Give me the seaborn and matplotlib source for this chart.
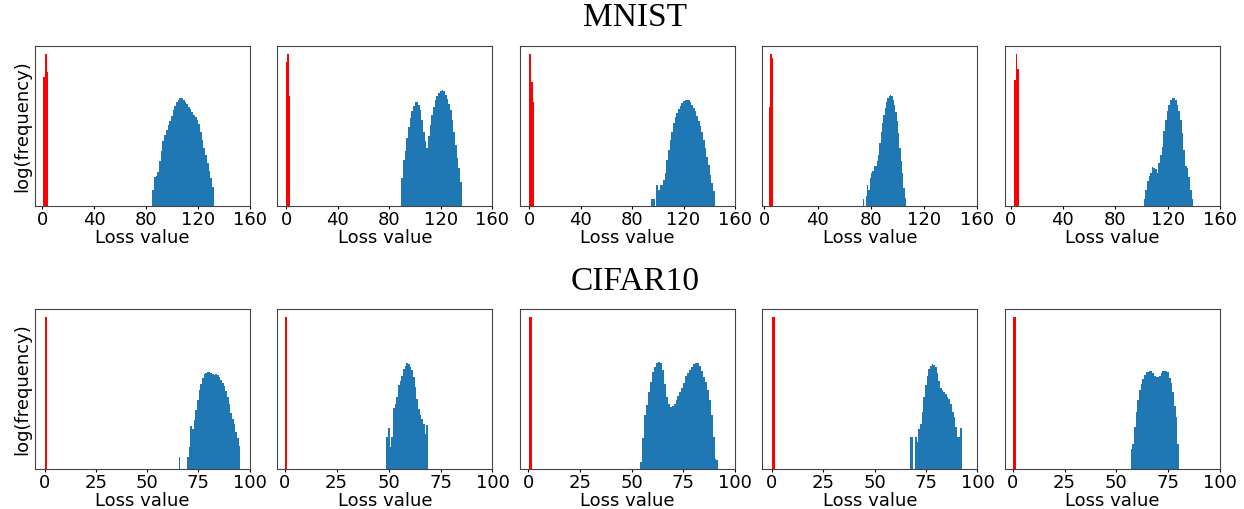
#import libaries
import numpy as np
import pandas as pd
from matplotlib import pyplot as plt
import seaborn as sns

# log10(frequency) per histogram bin
# red = small-loss group, blue = large-loss group, one list per panel

MNIST_RED_RANGE = [(0.8, 4.6), (0.0, 2.7), (0.0, 3.9), (3.8, 6.3), (2.6, 6.4)]
MNIST_RED = [
    [4.02, 4.75, 4.18],
    [4.49, 4.75, 3.44],
    [4.75, 3.86, 3.23],
    [3.10, 4.75, 4.61],
    [3.92, 4.75, 4.28],
]

MNIST_BLUE_RANGE = [(84.6, 132.0), (89.2, 136.1), (94.9, 144.3), (74.2, 106.3), (101.6, 139.6)]
MNIST_BLUE = [
    [0.50, 0.89, 0.92, 1.07, 1.39, 1.70, 2.01, 2.22, 2.38, 2.53, 2.66, 2.81,
     2.98, 3.13, 3.23, 3.31, 3.37, 3.35, 3.31, 3.25, 3.19, 3.10, 3.02, 2.94,
     2.84, 2.77, 2.69, 2.56, 2.32, 2.06, 1.80, 1.59, 1.33, 1.10, 0.86, 0.60],
    [0.87, 1.44, 1.70, 2.11, 2.46, 2.74, 2.95, 3.13, 3.23, 3.23, 3.16, 2.98,
     2.69, 2.32, 2.01, 1.80, 2.17, 2.53, 2.84, 3.10, 3.31, 3.44, 3.52, 3.57,
     3.60, 3.57, 3.47, 3.33, 3.19, 3.00, 2.69, 2.32, 1.91, 1.49, 1.18, 0.76],
    [0.22, 0.22, 0.0, 0.66, 0.50, 0.66, 0.66, 0.81, 1.02, 1.42, 1.75, 2.06,
     2.32, 2.58, 2.77, 2.90, 3.02, 3.13, 3.21, 3.26, 3.29, 3.31, 3.29, 3.23,
     3.16, 3.05, 2.95, 2.81, 2.64, 2.48, 2.29, 2.06, 1.80, 1.54, 1.28, 0.97,
     0.71, 0.45],
    [0.22, 0.0, 0.30, 0.66, 0.50, 0.86, 1.02, 1.10, 1.25, 1.25, 1.39, 1.59,
     1.96, 2.32, 2.58, 2.84, 3.05, 3.23, 3.37, 3.42, 3.45, 3.42, 3.31, 3.16,
     2.92, 2.64, 2.27, 1.80, 1.39, 1.02, 0.55, 0.24],
    [0.21, 0.50, 0.79, 0.94, 1.02, 1.20, 1.18, 1.15, 1.02, 1.33, 1.59, 1.85,
     2.35, 2.69, 2.95, 3.16, 3.29, 3.35, 3.38, 3.31, 3.16, 2.95, 2.69, 2.27,
     1.75, 1.23, 1.18, 0.90, 0.50, 0.21],
]

CIFAR_RED_RANGE = [(0.0, 1.3), (0.0, 1.3), (0.65, 2.1), (0.0, 1.3), (0.3, 1.6)]
CIFAR_RED = [[4.79], [4.79], [4.79], [4.79], [4.79]]

CIFAR_BLUE_RANGE = [(65.3, 95.4), (48.9, 69.0), (54.3, 92.0), (67.2, 92.4), (56.9, 80.3)]
CIFAR_BLUE = [
    [0.385, 0.0, 0.0, 0.0, 0.0, 0.385, 0.70, 1.34, 1.27, 1.55, 1.85, 2.18,
     2.47, 2.66, 2.85, 2.98, 3.03, 3.05, 3.04, 3.02, 3.00, 2.97, 2.98, 2.95,
     2.90, 2.80, 2.72, 2.60, 2.46, 2.25, 2.05, 1.77, 1.58, 1.42, 1.17, 0.97,
     0.71],
    [1.01, 1.29, 0.70, 1.01, 1.93, 2.05, 2.27, 2.63, 2.78, 2.94, 3.15, 3.25,
     3.32, 3.30, 3.22, 3.11, 2.91, 2.57, 2.21, 1.90, 1.69, 1.58, 1.43, 1.11,
     1.38],
    [0.23, 0.96, 1.69, 2.00, 2.42, 2.73, 3.04, 3.20, 3.33, 3.38, 3.32, 3.13,
     2.68, 2.26, 2.05, 1.95, 1.97, 2.05, 2.16, 2.31, 2.42, 2.55, 2.70, 2.94,
     3.01, 3.11, 3.22, 3.30, 3.33, 3.32, 3.25, 3.09, 2.91, 2.73, 2.47, 2.16,
     1.69, 1.01, 0.30, 0.28],
    [1.01, 1.01, 0.0, 1.01, 0.85, 1.27, 1.43, 1.79, 2.26, 2.63, 2.94, 3.15,
     3.25, 3.30, 3.28, 3.22, 3.01, 2.78, 2.55, 2.47, 2.42, 2.36, 2.28, 2.21,
     2.05, 1.79, 1.64, 1.32, 1.01, 1.01, 1.29],
    [0.63, 0.80, 1.32, 1.79, 2.16, 2.47, 2.68, 2.83, 2.97, 3.04, 3.06, 3.07,
     3.07, 3.01, 2.94, 2.91, 2.91, 2.94, 3.01, 3.07, 3.07, 3.07, 3.04, 2.86,
     2.70, 2.42, 1.97, 1.64, 0.80],
]

MNIST_TICKS = [0, 40, 80, 120, 160]
CIFAR_TICKS = [0, 25, 50, 75, 100]


def draw_hist(ax, rng, vals, color):
    edges = np.linspace(rng[0], rng[1], len(vals) + 1)
    centers = (edges[:-1] + edges[1:]) / 2
    df = pd.DataFrame({'loss': centers, 'logfreq': vals})
    sns.histplot(data=df, x='loss', weights='logfreq', bins=edges.tolist(),
                 color=color, alpha=1, linewidth=0, edgecolor='none', ax=ax)


fig, axes = plt.subplots(2, 5, figsize=(12.44, 5.09), dpi=100)
fig.subplots_adjust(left=0.0281, right=0.9807, top=0.9096, bottom=0.0786,
                    wspace=0.128, hspace=0.646)

rows = [
    (MNIST_RED_RANGE, MNIST_RED, MNIST_BLUE_RANGE, MNIST_BLUE, MNIST_TICKS),
    (CIFAR_RED_RANGE, CIFAR_RED, CIFAR_BLUE_RANGE, CIFAR_BLUE, CIFAR_TICKS),
]

for r, (rr, rv, br, bv, ticks) in enumerate(rows):
    for c in range(5):
        ax = axes[r, c]
        draw_hist(ax, br[c], bv[c], '#1f77b4')
        draw_hist(ax, rr[c], rv[c], 'red')
        ax.set_xticks(ticks)
        ax.set_yticks([])
        ax.tick_params(axis='x', labelsize=13, length=2.4, pad=1.2)
        for s in ax.spines.values():
            s.set_color('#444444')
        ax.set_xlabel('Loss value', fontsize=13, labelpad=0)
        if c == 0:
            ax.set_ylabel('log(frequency)', fontsize=13, labelpad=3)
        else:
            ax.set_ylabel('')

fig.text(635 / 1244, 1 - 18 / 509, 'MNIST', ha='center', va='center',
         fontsize=24, family='Liberation Serif')
fig.text(635 / 1244, 1 - 282 / 509, 'CIFAR10', ha='center', va='center',
         fontsize=24, family='Liberation Serif')

plt.savefig('out.png', dpi=100)
